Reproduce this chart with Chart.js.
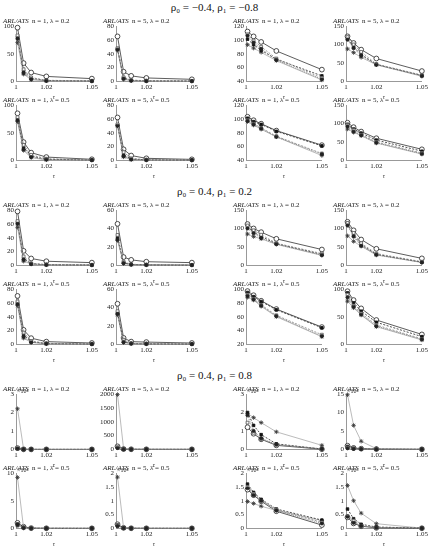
<!DOCTYPE html>
<html>
<head>
<meta charset="utf-8">
<script src="https://cdn.jsdelivr.net/npm/chart.js@4.4.0/dist/chart.umd.min.js"></script>
<style>
  body { margin: 0; background: #fff; }
  #wrap { position: relative; width: 429px; height: 550px; overflow: hidden; }
  .panel { position: absolute; }
  .head { position: absolute; left: 0; width: 429px; text-align: center;
          font: 11px "Liberation Serif", "DejaVu Serif", serif; color: #111; }
</style>
</head>
<body>
<div id="wrap"></div>
<script>
// shift ratio values on the x axis
var tau = [1.001, 1.005, 1.01, 1.02, 1.05];
var xTicks = [1, 1.02, 1.05];

// group headings
var groupHeads = ['ρ₀ = −0.4, ρ₁ = −0.8', 'ρ₀ = 0.4, ρ₁ = 0.2', 'ρ₀ = 0.4, ρ₁ = 0.8'];

// each panel: five series (A circle, B star, C filled square, D open square, E dot)
// group 1: rho0 = -0.4, rho1 = -0.8
var g1_n1_l02 = [[97, 33, 16, 9, 5], [70, 13, 3, 1, 0.5], [80, 18, 6, 1.5, 0.8], [83, 22, 7, 2, 1], [77, 15, 4, 1, 0.6]];
var g1_n5_l02 = [[65, 14, 8, 5, 3], [45, 3, 1, 0.5, 0.3], [47, 5, 1.5, 0.8, 0.5], [48, 6, 2, 1, 0.6], [46, 4, 1, 0.6, 0.4]];
var g1_n1_l02b = [[112, 105, 97, 84, 57], [93, 88, 82, 70, 42], [101, 93, 85, 72, 48], [108, 99, 90, 73, 45], [106, 96, 87, 71, 43]];
var g1_n5_l02b = [[122, 104, 86, 62, 28], [88, 78, 65, 45, 14], [115, 93, 73, 46, 16], [120, 100, 80, 47, 17], [113, 90, 70, 45, 15]];
var g1_n1_l05 = [[85, 33, 14, 6, 2], [70, 18, 5, 1, 0.5], [75, 24, 8, 2, 0.8], [78, 28, 10, 3, 1], [72, 20, 6, 1.5, 0.6]];
var g1_n5_l05 = [[62, 16, 7, 3, 1.5], [50, 5, 1, 0.5, 0.3], [51, 8, 2, 0.8, 0.5], [52, 12, 3, 1, 0.6], [50, 6, 1.5, 0.6, 0.4]];
var g1_n1_l05b = [[103, 98, 93, 83, 62], [96, 91, 85, 74, 47], [101, 96, 92, 82, 61], [98, 93, 87, 75, 50], [97, 92, 86, 74, 49]];
var g1_n5_l05b = [[102, 90, 78, 60, 30], [85, 76, 67, 47, 17], [98, 85, 74, 55, 25], [96, 82, 70, 50, 20], [92, 78, 68, 48, 18]];
// group 2: rho0 = 0.4, rho1 = 0.2
var g2_n1_l02 = [[78, 21, 10, 6, 4], [55, 6, 2, 0.8, 0.5], [62, 10, 2.5, 1, 0.6], [64, 13, 3, 1.2, 0.8], [60, 8, 2, 0.9, 0.5]];
var g2_n5_l02 = [[45, 9, 6, 4, 3], [27, 2, 0.8, 0.5, 0.3], [30, 3, 1, 0.6, 0.4], [33, 4, 1.2, 0.8, 0.5], [28, 2.5, 0.9, 0.6, 0.4]];
var g2_n1_l02b = [[112, 100, 90, 72, 43], [85, 78, 72, 57, 27], [104, 90, 78, 59, 30], [108, 95, 83, 60, 32], [100, 87, 74, 58, 28]];
var g2_n5_l02b = [[118, 95, 70, 45, 19], [80, 65, 52, 28, 8], [112, 82, 56, 30, 9], [115, 88, 60, 32, 10], [108, 78, 53, 29, 8]];
var g2_n1_l05 = [[70, 21, 9, 4, 2], [56, 9, 3, 0.8, 0.4], [60, 14, 4, 1.2, 0.6], [62, 17, 5, 1.5, 0.8], [58, 11, 3, 1, 0.5]];
var g2_n5_l05 = [[44, 7, 3, 2.5, 1.5], [32, 2, 0.8, 0.5, 0.3], [34, 3, 1, 0.6, 0.4], [36, 5, 1.2, 0.8, 0.5], [33, 2.5, 0.9, 0.6, 0.4]];
var g2_n1_l05b = [[97, 91, 83, 71, 45], [88, 84, 75, 60, 31], [95, 89, 82, 70, 44], [92, 86, 77, 62, 34], [90, 85, 76, 61, 32]];
var g2_n5_l05b = [[96, 80, 65, 44, 18], [78, 66, 53, 32, 8], [93, 75, 60, 40, 14], [90, 70, 56, 35, 10], [85, 68, 54, 33, 9]];
// group 3: rho0 = 0.4, rho1 = 0.8
var g3_n1_l02 = [[700, 60, 15, 6, 3], [22000, 150, 25, 8, 3], [400, 25, 6, 3, 2], [300, 20, 5, 3, 2], [500, 35, 8, 4, 2]];
var g3_n5_l02 = [[110, 12, 5, 3, 2], [1980, 25, 5, 3, 2], [60, 6, 3, 2, 1], [80, 8, 4, 2, 1], [50, 5, 3, 2, 1]];
var g3_n1_l02b = [[12000, 8500, 5500, 2200, 100], [19500, 17200, 14500, 9500, 2200], [20000, 13000, 8000, 3000, 200], [14500, 9000, 5500, 2500, 200], [18500, 10000, 6000, 2700, 300]];
var g3_n5_l02b = [[10000, 4000, 2000, 1000, 200], [148000, 65000, 22000, 2000, 500], [8000, 3000, 1500, 500, 100], [5000, 2000, 1000, 500, 100], [3000, 1500, 800, 300, 100]];
var g3_n1_l05 = [[10000, 3000, 500, 200, 100], [92000, 500, 200, 100, 50], [8000, 2000, 300, 150, 80], [5000, 1500, 300, 150, 80], [6000, 1000, 250, 120, 70]];
var g3_n5_l05 = [[1500, 200, 50, 30, 20], [18500, 200, 50, 30, 20], [1200, 150, 40, 25, 15], [1000, 120, 30, 20, 10], [800, 100, 30, 20, 10]];
var g3_n1_l05b = [[14000, 12000, 9800, 6200, 1200], [9700, 9000, 8000, 6500, 2800], [16000, 13000, 10500, 7000, 3000], [15000, 12500, 10000, 6800, 2200], [14500, 12000, 10000, 6500, 1800]];
var g3_n5_l05b = [[40000, 18000, 8000, 2000, 500], [155000, 100000, 55000, 17000, 1000], [70000, 35000, 15000, 5000, 1000], [45000, 28000, 10000, 3000, 800], [42000, 20000, 9000, 2500, 600]];

// panel list: group, row, col, data, y range, tick step, power of ten
var panels = [
  [0, 0, 0, g1_n1_l02, 0, 100, 50, 0], [0, 0, 1, g1_n5_l02, 0, 80, 20, 0],
  [0, 0, 2, g1_n1_l02b, 40, 120, 20, 0], [0, 0, 3, g1_n5_l02b, 0, 150, 50, 0],
  [0, 1, 0, g1_n1_l05, 0, 100, 50, 0], [0, 1, 1, g1_n5_l05, 0, 80, 20, 0],
  [0, 1, 2, g1_n1_l05b, 40, 120, 20, 0], [0, 1, 3, g1_n5_l05b, 0, 150, 50, 0],
  [1, 0, 0, g2_n1_l02, 0, 80, 20, 0], [1, 0, 1, g2_n5_l02, 0, 60, 20, 0],
  [1, 0, 2, g2_n1_l02b, 0, 150, 50, 0], [1, 0, 3, g2_n5_l02b, 0, 150, 50, 0],
  [1, 1, 0, g2_n1_l05, 0, 80, 20, 0], [1, 1, 1, g2_n5_l05, 0, 60, 20, 0],
  [1, 1, 2, g2_n1_l05b, 20, 100, 20, 0], [1, 1, 3, g2_n5_l05b, 0, 100, 50, 0],
  [2, 0, 0, g3_n1_l02, 0, 30000, 10000, 4], [2, 0, 1, g3_n5_l02, 0, 2000, 500, 0],
  [2, 0, 2, g3_n1_l02b, 0, 30000, 10000, 4], [2, 0, 3, g3_n5_l02b, 0, 150000, 50000, 4],
  [2, 1, 0, g3_n1_l05, 0, 100000, 50000, 4], [2, 1, 1, g3_n5_l05, 0, 20000, 5000, 4],
  [2, 1, 2, g3_n1_l05b, 0, 20000, 5000, 4], [2, 1, 3, g3_n5_l05b, 0, 200000, 50000, 5]
];

var seriesStyle = [
  { pointStyle: 'circle', radius: 2.4, border: '#222', fill: '#fff', line: '#333', dash: [] },
  { pointStyle: 'star', radius: 2.2, border: '#333', fill: '#333', line: '#aaa', dash: [] },
  { pointStyle: 'rect', radius: 1.8, border: '#111', fill: '#111', line: '#222', dash: [2, 1.5] },
  { pointStyle: 'rect', radius: 2.0, border: '#555', fill: '#fff', line: '#888', dash: [2, 1.5] },
  { pointStyle: 'circle', radius: 1.6, border: '#222', fill: '#222', line: '#777', dash: [1, 1] }
];

var colLeft = [0, 100, 230, 330];
var serif = '"Liberation Serif", "DejaVu Serif", serif';
var wrap = document.getElementById('wrap');

groupHeads.forEach(function(text, g) {
  var d = document.createElement('div');
  d.className = 'head';
  d.style.top = (1 + g * 184) + 'px';
  d.textContent = text;
  wrap.appendChild(d);
});

// draws "ARL/ATS  n = .., λ = .." and the ×10^k label
var panelText = {
  id: 'panelText',
  afterDraw: function(chart, args, opts) {
    var ctx = chart.ctx;
    var left = chart.chartArea.left;
    ctx.save();
    ctx.fillStyle = '#222';
    ctx.textBaseline = 'alphabetic';
    ctx.font = 'italic 7px ' + serif;
    ctx.fillText('ARL/ATS', left - 13, 8.5);
    ctx.font = '7px ' + serif;
    ctx.fillText(opts.sub, left + 16, 8.5);
    if (opts.exp) {
      ctx.font = '6px ' + serif;
      ctx.fillText('×10' + opts.exp, left + 1, chart.chartArea.top - 1);
    }
    ctx.restore();
  }
};

var supDigits = { 4: '⁴', 5: '⁵' };

panels.forEach(function(p) {
  var g = p[0], r = p[1], c = p[2], data = p[3];
  var ymin = p[4], ymax = p[5], step = p[6], pw = p[7];
  var scale = Math.pow(10, pw);
  var titleY = 20 + g * 184 + r * 79;

  var canvas = document.createElement('canvas');
  var box = document.createElement('div');
  box.className = 'panel';
  box.style.left = colLeft[c] + 'px';
  box.style.top = (titleY - 6) + 'px';
  box.style.width = '100px';
  box.style.height = '87px';
  box.appendChild(canvas);
  wrap.appendChild(box);

  var lam = (g === 2 && r === 1) ? 'λ\u0304' : 'λ';
  var sub = 'n = ' + (c % 2 === 0 ? 1 : 5) + ', ' + lam + ' = ' + (r === 0 ? '0.2' : '0.5');

  var datasets = data.map(function(vals, i) {
    var s = seriesStyle[i];
    return {
      data: vals.map(function(v, k) { return { x: tau[k], y: v }; }),
      borderColor: s.line,
      borderWidth: 0.8,
      borderDash: s.dash,
      pointStyle: s.pointStyle,
      pointRadius: s.radius,
      pointBorderColor: s.border,
      pointBackgroundColor: s.fill,
      pointBorderWidth: 0.8,
      tension: 0,
      clip: 4
    };
  });
  // star series drawn first so black marks sit on top
  datasets.reverse();

  new Chart(canvas, {
    type: 'line',
    data: { datasets: datasets },
    options: {
      responsive: true,
      maintainAspectRatio: false,
      animation: false,
      layout: { padding: { top: 12, right: 2 } },
      plugins: {
        legend: { display: false },
        tooltip: { enabled: false },
        panelText: { sub: sub, exp: pw ? supDigits[pw] : '' }
      },
      scales: {
        x: {
          type: 'linear', min: 1, max: 1.05,
          afterBuildTicks: function(axis) {
            axis.ticks = xTicks.map(function(v) { return { value: v }; });
          },
          grid: { display: false, drawTicks: false },
          border: { color: '#999', width: 1 },
          ticks: {
            color: '#222', font: { size: 7, family: serif }, padding: 2, maxRotation: 0,
            callback: function(v) { return v === 1 ? '1' : v.toFixed(2); }
          },
          title: { display: true, text: 'τ', color: '#222', padding: 0,
                   font: { size: 6, style: 'italic', family: serif } }
        },
        y: {
          min: ymin, max: ymax,
          afterFit: function(axis) { axis.width = 16; },
          grid: { display: false, drawTicks: false },
          border: { color: '#999', width: 1 },
          ticks: {
            stepSize: step, color: '#222', font: { size: 7, family: serif }, padding: 2,
            callback: function(v) { return String(+(v / scale).toFixed(2)); }
          }
        }
      }
    },
    plugins: [panelText]
  });
});
</script>
</body>
</html>
